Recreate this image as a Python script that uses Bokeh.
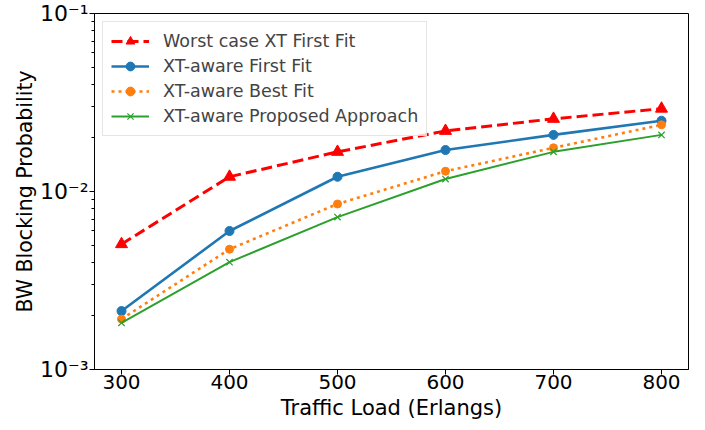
from bokeh.plotting import figure
from bokeh.models import Range1d, FixedTicker, CustomJSTickFormatter, Legend
from bokeh.embed import file_html
from bokeh.resources import INLINE

# ---- data ----
loads = [300, 400, 500, 600, 700, 800]
worst_ff = [0.00506, 0.0121, 0.0167, 0.0219, 0.0256, 0.0292]
xt_ff = [0.00213, 0.00600, 0.0121, 0.0171, 0.0208, 0.0250]
xt_bf = [0.00192, 0.00474, 0.00851, 0.0130, 0.0176, 0.0237]
xt_prop = [0.00183, 0.00401, 0.00718, 0.01175, 0.0167, 0.0208]
series_names = ["Worst case XT First Fit", "XT-aware First Fit",
                "XT-aware Best Fit", "XT-aware Proposed Approach"]
x_ticks = [300, 400, 500, 600, 700, 800]
y_ticks = [0.001, 0.01, 0.1]
y_minor = [m * d for d in (0.001, 0.01) for m in range(2, 10)]

FONT = "DejaVu Sans"

p = figure(frame_width=594, frame_height=356, y_axis_type="log",
           x_range=Range1d(275, 825), y_range=Range1d(0.001, 0.1),
           output_backend="svg", toolbar_location=None,
           min_border_left=94, min_border_right=7,
           min_border_top=13, min_border_bottom=58)
p.grid.visible = False
p.outline_line_color = "black"
p.outline_line_width = 1
p.outline_line_alpha = 1
p.background_fill_color = "white"
p.border_fill_color = "white"

r1 = p.line(loads, worst_ff, color="#ff0000", line_width=3, line_dash="11 5")
m1 = p.scatter(loads, worst_ff, marker="triangle", size=12, color="#ff0000")
r2 = p.line(loads, xt_ff, color="#1f77b4", line_width=2.6)
m2 = p.scatter(loads, xt_ff, marker="circle", size=9, color="#1f77b4")
r3 = p.line(loads, xt_bf, color="#ff7f0e", line_width=2.6, line_dash="3 4")
m3 = p.scatter(loads, xt_bf, marker="circle", size=8, color="#ff7f0e")
r4 = p.line(loads, xt_prop, color="#2ca02c", line_width=2)
m4 = p.scatter(loads, xt_prop, marker="x", size=9, line_color="#2ca02c", line_width=1.2)

legend = Legend(items=[(series_names[0], [r1, m1]), (series_names[1], [r2, m2]),
                       (series_names[2], [r3, m3]), (series_names[3], [r4, m4])],
                location="top_left")
legend.margin = 8
legend.padding = 8
legend.spacing = 3
legend.glyph_width = 38
legend.glyph_height = 22
legend.label_standoff = 14
legend.label_text_font = FONT
legend.label_text_font_size = "17.5px"
legend.border_line_color = "#cccccc"
legend.border_line_width = 1
legend.background_fill_alpha = 0.8
p.add_layout(legend)

p.xaxis.ticker = FixedTicker(ticks=x_ticks)
p.yaxis.ticker = FixedTicker(ticks=y_ticks, minor_ticks=y_minor)
p.yaxis.formatter = CustomJSTickFormatter(code="""
const sup = {"-":"\u207b","0":"\u2070","1":"\u00b9","2":"\u00b2","3":"\u00b3","4":"\u2074"};
const e = Math.round(Math.log10(tick));
return "10" + String(e).split("").map(c => sup[c]).join("");
""")

for ax in (p.xaxis[0], p.yaxis[0]):
    ax.axis_line_color = "black"
    ax.major_tick_line_color = "black"
    ax.minor_tick_line_color = "black"
    ax.major_tick_out = 5
    ax.major_tick_in = 0
    ax.minor_tick_out = 3
    ax.minor_tick_in = 0
    ax.major_label_text_font = FONT
    ax.major_label_text_font_size = "20px"
    ax.major_label_text_color = "black"
    ax.axis_label_text_font = FONT
    ax.axis_label_text_font_size = "20.5px"
    ax.axis_label_text_font_style = "normal"
    ax.axis_label_text_color = "black"
p.xaxis.minor_tick_line_color = None
p.xaxis.axis_label = "Traffic Load (Erlangs)"
p.yaxis.axis_label = "BW Blocking Probability"
p.xaxis.axis_label_text_font_size = "21px"
p.yaxis.major_label_text_font_size = "22px"
p.xaxis.major_label_standoff = 0
p.yaxis.major_label_standoff = 1
p.xaxis.axis_label_standoff = 4
p.yaxis.axis_label_standoff = 0

open("out.html", "w").write(file_html(p, INLINE))
